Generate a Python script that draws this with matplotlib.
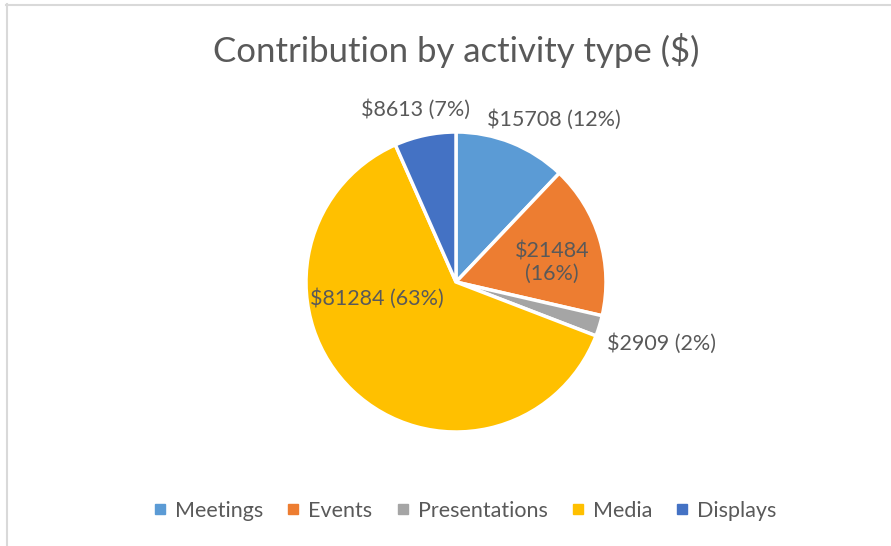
import matplotlib.pyplot as plt
from matplotlib.lines import Line2D

# chart data
categories = ['Meetings', 'Events', 'Presentations', 'Media', 'Displays']
amounts = [15708, 21484, 2909, 81284, 8613]
percents = [12, 16, 2, 63, 7]
colors = ['#5B9BD5', '#ED7D31', '#A5A5A5', '#FFC000', '#4472C4']

text_color = '#595959'
plt.rcParams['font.family'] = ['Lato', 'DejaVu Sans']

W, H = 891, 546
fig = plt.figure(figsize=(W / 100, H / 100), dpi=100)

# outer frame (only top and left edges visible)
fig.add_artist(Line2D([6 / W, 1], [1 - 4.5 / H, 1 - 4.5 / H], color='#D9D9D9', lw=1.5))
fig.add_artist(Line2D([7 / W, 7 / W], [1 - 4 / H, 0], color='#D9D9D9', lw=1.5))

fig.text(456 / W, 1 - 50 / H, 'Contribution by activity type ($)',
         ha='center', va='center', fontsize=25, color=text_color)

# pie axes: centre (456, 282), radius 150 px
cx, cy, r = 456, 282, 150
ax = fig.add_axes([(cx - r) / W, 1 - (cy + r) / H, 2 * r / W, 2 * r / H])
wedges, _ = ax.pie(amounts, colors=colors, startangle=90, counterclock=False,
                   wedgeprops=dict(edgecolor='white', linewidth=2.5))
ax.set_xlim(-1, 1)
ax.set_ylim(-1, 1)
ax.set_aspect('equal')
ax.axis('off')

# label positions in pie units (radius = 1)
label_pos = [(0.65, 1.08), (0.64, 0.13), (1.37, -0.41), (-0.53, -0.11), (-0.27, 1.15)]
for i in range(len(categories)):
    txt = '$%d (%d%%)' % (amounts[i], percents[i])
    if categories[i] == 'Events':
        txt = '$%d\n(%d%%)' % (amounts[i], percents[i])
    ax.text(label_pos[i][0], label_pos[i][1], txt, ha='center', va='center',
            fontsize=15.5, color=text_color, linespacing=1.15, clip_on=False)

handles = [Line2D([], [], marker='s', ls='', markersize=7, markerfacecolor=c,
                  markeredgecolor=c) for c in colors]
fig.legend(handles, categories, loc='center', bbox_to_anchor=(463 / W, 1 - 511 / H),
           ncol=5, frameon=False, fontsize=15.5, labelcolor=text_color,
           handletextpad=0.2, columnspacing=0.9, handlelength=1.0)

fig.savefig('out.png', dpi=100)
